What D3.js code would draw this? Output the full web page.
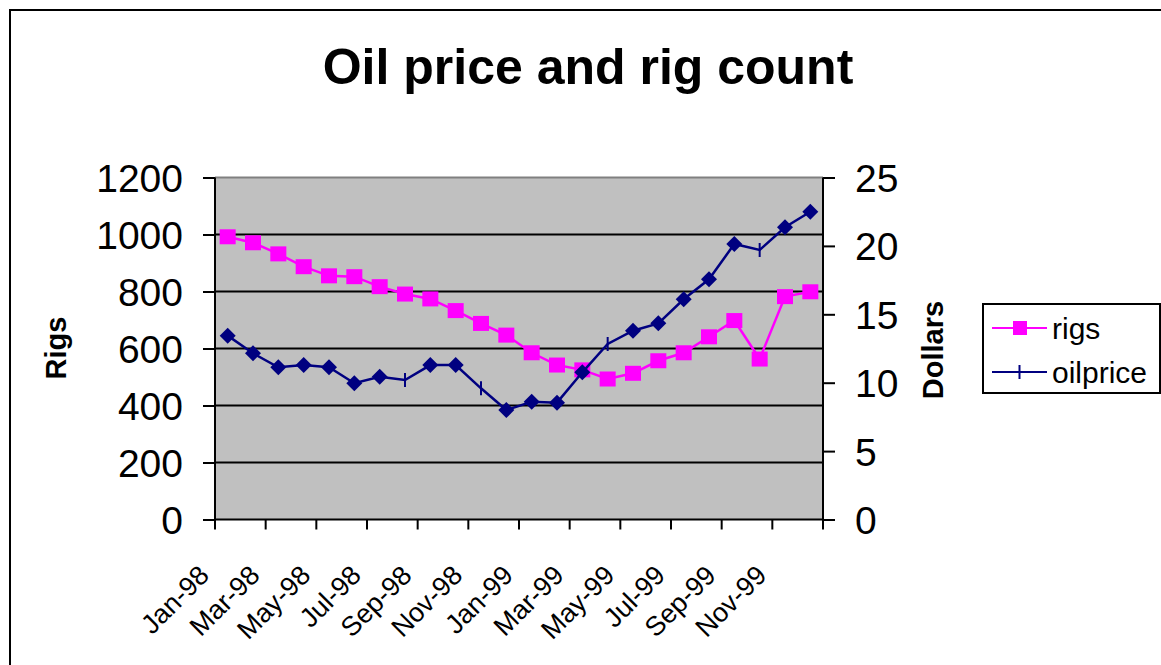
<!DOCTYPE html>
<html>
<head>
<meta charset="utf-8">
<script src="https://cdn.jsdelivr.net/npm/d3@7"></script>
<style>
  html, body { margin: 0; padding: 0; background: #fff; }
  svg { display: block; font-family: "Liberation Sans", Arial, sans-serif; }
</style>
</head>
<body>
<div id="chart-container"></div>
<script>
// Data
const months = ["Jan-98","Feb-98","Mar-98","Apr-98","May-98","Jun-98","Jul-98","Aug-98","Sep-98","Oct-98","Nov-98","Dec-98",
                "Jan-99","Feb-99","Mar-99","Apr-99","May-99","Jun-99","Jul-99","Aug-99","Sep-99","Oct-99","Nov-99","Dec-99"];
const rigs = [992, 971, 932, 887, 855, 852, 817, 791, 774, 733, 688, 647,
              585, 542, 525, 493, 513, 557, 585, 641, 698, 563, 782, 799];
const oilprice = [13.44, 12.15, 11.13, 11.29, 11.13, 9.96, 10.44, 10.2, 11.29, 11.29, 9.59, 8.0,
                  8.61, 8.54, 10.76, 12.83, 13.8, 14.34, 16.1, 17.56, 20.14, 19.7, 21.36, 22.5];
// points of oilprice drawn with the plain tick marker instead of a diamond
const oilTickPoints = [7, 10, 15, 21];
const rigTicks = [0, 200, 400, 600, 800, 1000, 1200];
const dollarTicks = [0, 5, 10, 15, 20, 25];

// Chart dimensions
const width = 1161;
const height = 665;
const plotLeft = 215;
const plotRight = 823;
const plotTop = 177.5;
const plotBottom = 519.5;

const rigCol = "#FF00FF";
const oilCol = "#000080";

const x = d3.scaleBand()
    .domain(months)
    .range([plotLeft, plotRight])
    .padding(0);
const cx = d => x(d) + x.bandwidth() / 2;

const yRigs = d3.scaleLinear()
    .domain([0, 1200])
    .range([plotBottom, plotTop]);

const yOil = d3.scaleLinear()
    .domain([0, 25])
    .range([plotBottom, plotTop]);

const svg = d3.create("svg")
    .attr("width", width)
    .attr("height", height);

// outer chart border (runs off the right and bottom edge)
svg.append("rect")
    .attr("x", 10).attr("y", 10)
    .attr("width", width + 20).attr("height", height + 20)
    .attr("fill", "#fff")
    .attr("stroke", "#000")
    .attr("stroke-width", 2);

// title
svg.append("text")
    .attr("x", 588).attr("y", 84)
    .attr("text-anchor", "middle")
    .attr("font-size", 50)
    .attr("font-weight", "bold")
    .text("Oil price and rig count");

// plot background
svg.append("rect")
    .attr("x", plotLeft).attr("y", plotTop)
    .attr("width", plotRight - plotLeft).attr("height", plotBottom - plotTop)
    .attr("fill", "#C0C0C0");

// gridlines
svg.append("g")
    .selectAll("line")
    .data(rigTicks.filter(t => t > 0))
    .join("line")
    .attr("x1", plotLeft).attr("x2", plotRight)
    .attr("y1", d => yRigs(d)).attr("y2", d => yRigs(d))
    .attr("stroke", d => d === 1200 ? "#808080" : "#000")
    .attr("stroke-width", 2);

// left axis
const leftAxis = svg.append("g")
    .attr("transform", `translate(${plotLeft},0)`)
    .call(d3.axisLeft(yRigs).tickValues(rigTicks).tickSize(12).tickPadding(20).tickFormat(d3.format("d")));
leftAxis.select(".domain").attr("stroke-width", 2).attr("d", `M0,${plotTop}V${plotBottom}`);
leftAxis.selectAll(".tick line").attr("stroke-width", 2);
leftAxis.selectAll(".tick text")
    .attr("font-size", 39)
    .attr("font-family", "Liberation Sans, Arial, sans-serif")
    .attr("fill", "#000")
    .attr("dy", "0.36em");

// right axis
const rightAxis = svg.append("g")
    .attr("transform", `translate(${plotRight},0)`)
    .call(d3.axisRight(yOil).tickValues(dollarTicks).tickSize(12).tickPadding(20));
rightAxis.select(".domain").attr("stroke-width", 2).attr("d", `M0,${plotTop}V${plotBottom}`);
rightAxis.selectAll(".tick line").attr("stroke-width", 2);
rightAxis.selectAll(".tick text")
    .attr("font-size", 39)
    .attr("font-family", "Liberation Sans, Arial, sans-serif")
    .attr("fill", "#000")
    .attr("dy", "0.36em");

// bottom axis: ticks on category boundaries every two months
const bottom = svg.append("g");
bottom.append("line")
    .attr("x1", plotLeft - 1).attr("x2", plotRight + 1)
    .attr("y1", plotBottom).attr("y2", plotBottom)
    .attr("stroke", "#000").attr("stroke-width", 2);
const boundaries = months.filter((m, i) => i % 2 === 0).map(m => x(m)).concat([plotRight]);
bottom.selectAll("line.tick")
    .data(boundaries)
    .join("line")
    .attr("class", "tick")
    .attr("x1", d => d).attr("x2", d => d)
    .attr("y1", plotBottom).attr("y2", plotBottom + 10)
    .attr("stroke", "#000").attr("stroke-width", 2);
bottom.selectAll("text")
    .data(months.filter((m, i) => i % 2 === 0))
    .join("text")
    .attr("transform", d => `translate(${cx(d) - 17},577) rotate(-45)`)
    .attr("text-anchor", "end")
    .attr("font-size", 27)
    .text(d => d);

// axis titles
svg.append("text")
    .attr("transform", "translate(66,348) rotate(-90)")
    .attr("text-anchor", "middle")
    .attr("font-size", 29)
    .attr("font-weight", "bold")
    .text("Rigs");
svg.append("text")
    .attr("transform", "translate(943,350) rotate(-90)")
    .attr("text-anchor", "middle")
    .attr("font-size", 29)
    .attr("font-weight", "bold")
    .text("Dollars");

// rigs series
const rigLine = d3.line()
    .x((d, i) => cx(months[i]))
    .y(d => yRigs(d));
svg.append("path")
    .datum(rigs)
    .attr("d", rigLine)
    .attr("fill", "none")
    .attr("stroke", rigCol)
    .attr("stroke-width", 2.5);
svg.append("g")
    .selectAll("rect")
    .data(rigs)
    .join("rect")
    .attr("x", (d, i) => cx(months[i]) - 8)
    .attr("y", d => yRigs(d) - 7.5)
    .attr("width", 16).attr("height", 15)
    .attr("fill", rigCol);

// oilprice series
const oilLine = d3.line()
    .x((d, i) => cx(months[i]))
    .y(d => yOil(d));
svg.append("path")
    .datum(oilprice)
    .attr("d", oilLine)
    .attr("fill", "none")
    .attr("stroke", oilCol)
    .attr("stroke-width", 2.5);
const oilPts = oilprice.map((v, i) => ({ i, v }));
svg.append("g")
    .selectAll("path")
    .data(oilPts.filter(d => !oilTickPoints.includes(d.i)))
    .join("path")
    .attr("transform", d => `translate(${cx(months[d.i])},${yOil(d.v)})`)
    .attr("d", "M0,-8L8,0L0,8L-8,0Z")
    .attr("fill", oilCol);
svg.append("g")
    .selectAll("line")
    .data(oilPts.filter(d => oilTickPoints.includes(d.i)))
    .join("line")
    .attr("x1", d => cx(months[d.i])).attr("x2", d => cx(months[d.i]))
    .attr("y1", d => yOil(d.v) - 7).attr("y2", d => yOil(d.v) + 7)
    .attr("stroke", oilCol).attr("stroke-width", 2);

// legend
const legend = svg.append("g");
legend.append("rect")
    .attr("x", 983).attr("y", 304)
    .attr("width", 177).attr("height", 89)
    .attr("fill", "#fff")
    .attr("stroke", "#000")
    .attr("stroke-width", 2);
const legendItems = [
  { name: "rigs", color: rigCol, y: 328 },
  { name: "oilprice", color: oilCol, y: 372 }
];
legend.selectAll("line.sample")
    .data(legendItems)
    .join("line")
    .attr("class", "sample")
    .attr("x1", 992).attr("x2", 1047)
    .attr("y1", d => d.y).attr("y2", d => d.y)
    .attr("stroke", d => d.color).attr("stroke-width", 2);
legend.append("rect")
    .attr("x", 1013).attr("y", 321)
    .attr("width", 14).attr("height", 14)
    .attr("fill", rigCol);
legend.append("line")
    .attr("x1", 1019.5).attr("x2", 1019.5)
    .attr("y1", 365).attr("y2", 379)
    .attr("stroke", oilCol).attr("stroke-width", 2);
legend.selectAll("text")
    .data(legendItems)
    .join("text")
    .attr("x", 1052)
    .attr("y", d => d.y)
    .attr("dy", "0.36em")
    .attr("font-size", 30)
    .text(d => d.name);

d3.select("#chart-container").append(() => svg.node());
</script>
</body>
</html>
